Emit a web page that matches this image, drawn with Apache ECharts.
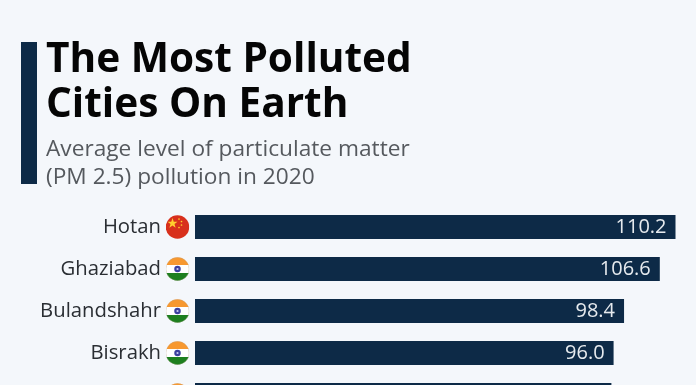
<!DOCTYPE html>
<html>
<head>
<meta charset="utf-8">
<style>
html, body { margin: 0; padding: 0; background: #f4f7fb; }
#chart { width: 696px; height: 385px; }
</style>
<script src="https://cdn.jsdelivr.net/npm/echarts@6/dist/echarts.min.js"></script>
</head>
<body>
<div id="chart"></div>
<script>
// data
var cities = ['Hotan', 'Ghaziabad', 'Bulandshahr', 'Bisrakh', 'Bhiwadi'];
var pm25 = [110.2, 106.6, 98.4, 96.0, 95.5];
var countries = ['china', 'india', 'india', 'india', 'india'];

// round flags
function flagUri(svgBody) {
    return 'image://data:image/svg+xml;charset=utf-8,' + encodeURIComponent(
        '<svg xmlns="http://www.w3.org/2000/svg" width="96" height="96" viewBox="0 0 48 48">' +
        '<defs><clipPath id="c"><circle cx="24" cy="24" r="23.5"/></clipPath></defs>' +
        '<g clip-path="url(#c)">' + svgBody + '</g></svg>');
}
var flags = {
    china: flagUri(
        '<rect width="48" height="48" fill="#d8301c"/>' +
        '<polygon points="14,6 16.5,13.5 24,13.5 18,18 20.2,25.5 14,21 7.8,25.5 10,18 4,13.5 11.5,13.5" fill="#ffcf2e"/>' +
        '<circle cx="27" cy="8" r="1.7" fill="#ffcf2e"/><circle cx="32" cy="13" r="1.7" fill="#ffcf2e"/>' +
        '<circle cx="32" cy="20" r="1.7" fill="#ffcf2e"/><circle cx="27" cy="25" r="1.7" fill="#ffcf2e"/>'),
    india: flagUri(
        '<rect width="48" height="48" fill="#ffffff"/>' +
        '<rect width="48" height="16" fill="#f7982f"/>' +
        '<rect y="32" width="48" height="16" fill="#1d7f1f"/>' +
        '<circle cx="24" cy="24" r="6.5" fill="#3a3f9e"/><circle cx="24" cy="24" r="2.2" fill="#c9cdf0"/>' +
        '<circle cx="24" cy="24" r="23.5" fill="none" stroke="#b9a58f" stroke-width="1"/>')
};

var chart = echarts.init(document.getElementById('chart'));

var font = '"Open Sans", "Noto Sans", sans-serif';

var option = {
    backgroundColor: '#f4f7fb',
    animation: false,
    title: [
        {
            text: 'The Most Polluted\nCities On Earth',
            left: 46, top: 38, padding: 0,
            textStyle: { fontFamily: font, fontWeight: 700, fontSize: 40.6, lineHeight: 45, color: '#050505' }
        },
        {
            text: 'Average level of particulate matter\n(PM 2.5) pollution in 2020',
            left: 46, top: 136, padding: 0,
            textStyle: { fontFamily: font, fontWeight: 400, fontSize: 22.7, lineHeight: 28, color: '#55595e' }
        }
    ],
    graphic: [{
        type: 'rect',
        shape: { x: 21, y: 42, width: 16, height: 142 },
        style: { fill: '#0d2a47' }
    }],
    grid: { left: 195, top: 206, width: 480.5, height: 210, outerBoundsMode: 'none' },
    xAxis: { type: 'value', min: 0, max: 110.2, show: false },
    yAxis: {
        type: 'category',
        inverse: true,
        data: cities,
        axisLine: { show: false },
        axisTick: { show: false },
        axisLabel: { margin: 34, fontFamily: font, fontSize: 20.3, color: '#2a2e33' }
    },
    series: [
        {
            type: 'bar',
            data: pm25,
            barWidth: 24,
            itemStyle: { color: '#0d2a47' },
            label: {
                show: true,
                position: 'insideRight',
                distance: 9,
                fontFamily: font,
                fontSize: 20,
                color: '#e6eaee',
                formatter: function (p) { return p.value.toFixed(1); }
            }
        },
        {
            type: 'scatter',
            clip: false,
            silent: true,
            data: cities.map(function (c, i) {
                return { value: [0, c], symbol: flags[countries[i]] };
            }),
            symbolSize: 24,
            symbolOffset: [-17.5, 0],
            itemStyle: { opacity: 1 }
        }
    ]
};

chart.setOption(option);
</script>
</body>
</html>
